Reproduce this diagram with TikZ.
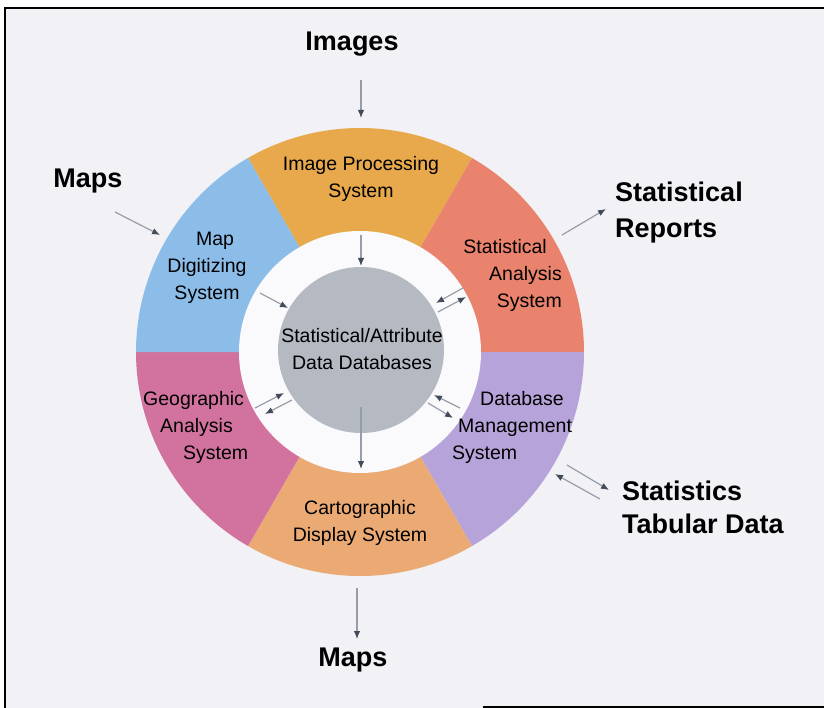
\documentclass[tikz,border=0pt]{standalone}
\usepackage{fontspec}
\setmainfont{Liberation Sans}
\usetikzlibrary{arrows.meta}
\definecolor{bg}{HTML}{F1F1F6}
\definecolor{ringwhite}{HTML}{FAFAFC}
\definecolor{cTop}{HTML}{E8A94C}
\definecolor{cRed}{HTML}{EA836E}
\definecolor{cLav}{HTML}{B6A3DA}
\definecolor{cBot}{HTML}{EBAA74}
\definecolor{cPink}{HTML}{D2729F}
\definecolor{cBlue}{HTML}{8CBCE8}
\definecolor{cGray}{HTML}{B4B9C2}
\definecolor{arrgray}{HTML}{979DA8}
\definecolor{tipgray}{HTML}{434B5A}
\begin{document}
\begin{tikzpicture}[x=1pt,y=-1pt,
  sect/.style={font=\fontsize{19.5}{27}\selectfont, text=black, inner sep=0pt},
  outer/.style={font=\fontsize{27}{36}\selectfont\bfseries, text=black, inner sep=0pt},
  arr/.style={draw=arrgray, line width=1.2pt, -{Latex[length=8pt,width=6.5pt,color=tipgray]}}]
\useasboundingbox (0,0) rectangle (824,708);
\fill[white] (0,0) rectangle (824,708);
\fill[bg] (5,8) rectangle (830,708);
\draw[line width=1.8pt] (830,8) -- (5,8) -- (5,708);
\draw[line width=1.8pt] (483,707) -- (830,707);
\coordinate (C) at (360,352);
% sectors (polar angles are clockwise on screen)
\fill[cTop]  (C) -- ++(-120:224) arc[start angle=-120,end angle=-60,radius=224] -- cycle;
\fill[cRed]  (C) -- ++(-60:224)  arc[start angle=-60,end angle=0,radius=224] -- cycle;
\fill[cLav]  (C) -- ++(0:224)    arc[start angle=0,end angle=60,radius=224] -- cycle;
\fill[cBot]  (C) -- ++(60:224)   arc[start angle=60,end angle=120,radius=224] -- cycle;
\fill[cPink] (C) -- ++(120:224)  arc[start angle=120,end angle=180,radius=224] -- cycle;
\fill[cBlue] (C) -- ++(180:224)  arc[start angle=180,end angle=240,radius=224] -- cycle;
\fill[ringwhite] (C) circle[radius=121];
% center database
\node[circle, fill=cGray, minimum size=166pt, inner sep=0pt] (dbc) at (361,350) {};
\node[sect, align=center] (db) at (362,349) {Statistical/Attribute\\Data Databases};
% sector labels
\node[sect, align=center] (ip) at (361,179) {Image Processing\\System};
\node[sect, align=right, anchor=east] (sa) at (562,275) {Statistical\hspace*{15pt}\\Analysis\hspace*{2pt}\\System};
\node[sect, align=left, anchor=west] (dbm) at (452,427) {\hspace*{28pt}Database\\\hspace*{6pt}Management\\System};
\node[sect, align=center] (cd) at (360,523) {Cartographic\\Display System};
\node[sect, align=left, anchor=west] (ga) at (143,427) {Geographic\\\hspace*{17pt}Analysis\\\hspace*{40pt}System};
\node[sect, align=center] (md) at (207,268) {\hspace*{16pt}Map\\Digitizing\\System};
% outer labels
\node[outer] (images) at (352,44) {Images};
\node[outer] (mapsL) at (88,181) {Maps};
\node[outer, align=left, anchor=west] (rep) at (615,213) {Statistical\\Reports};
\node[outer, align=left, anchor=west, font=\fontsize{27}{33}\selectfont\bfseries] (tab) at (622,507) {Statistics\\Tabular Data};
\node[outer] (mapsB) at (353,660) {Maps};
% arrow end points
\coordinate (a1s) at (361,80);  \coordinate (a1e) at (361,118);
\coordinate (a2s) at (115,212); \coordinate (a2e) at (160,235);
\coordinate (a3s) at (562,235); \coordinate (a3e) at (606,209);
\coordinate (a4s) at (567,465); \coordinate (a4e) at (609,490);
\coordinate (a5s) at (600,499); \coordinate (a5e) at (555,474);
\coordinate (a6s) at (361,235); \coordinate (a6e) at (361,266);
\coordinate (a7s) at (260,293); \coordinate (a7e) at (288,308);
\coordinate (a8s) at (463,288); \coordinate (a8e) at (436,303);
\coordinate (a9s) at (438,312); \coordinate (a9e) at (466,297);
\coordinate (b1s) at (255,408); \coordinate (b1e) at (284,393);
\coordinate (b2s) at (292,400); \coordinate (b2e) at (265,414);
\coordinate (b3s) at (460,408); \coordinate (b3e) at (434,395);
\coordinate (b4s) at (428,403); \coordinate (b4e) at (453,418);
\coordinate (b5s) at (361,407); \coordinate (b5e) at (361,469);
\coordinate (b6s) at (357,588); \coordinate (b6e) at (357,639);
\foreach \s/\e in {a1s/a1e,a2s/a2e,a3s/a3e,a4s/a4e,a5s/a5e,a6s/a6e,a7s/a7e,a8s/a8e,a9s/a9e,b1s/b1e,b2s/b2e,b3s/b3e,b4s/b4e,b5s/b5e,b6s/b6e}
  \draw[arr] (\s) -- (\e);
\end{tikzpicture}
\end{document}
